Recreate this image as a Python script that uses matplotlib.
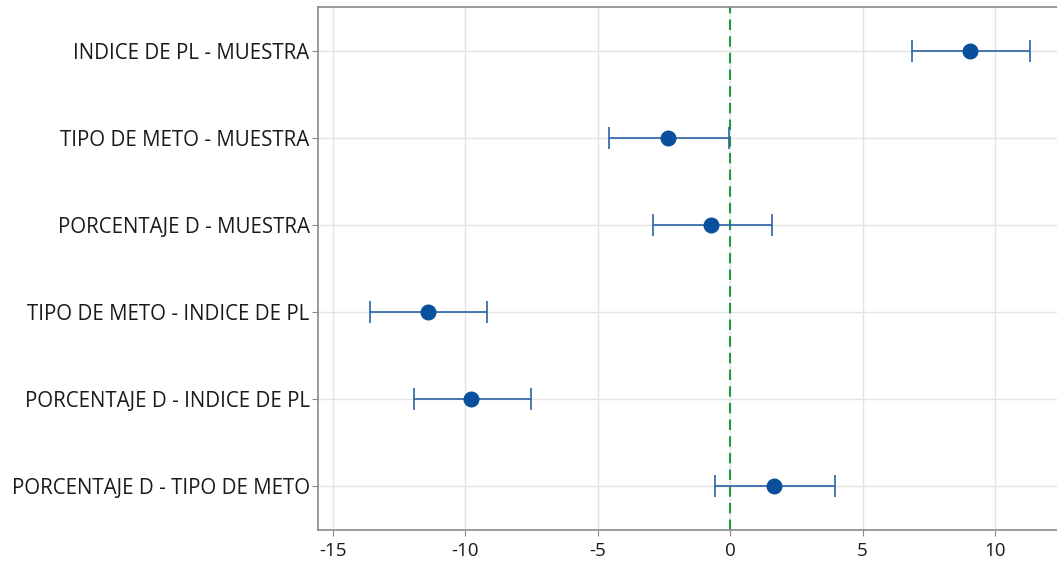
import matplotlib
matplotlib.use("Agg")
import matplotlib.pyplot as plt

labels = ["INDICE DE PL - MUESTRA", "TIPO DE METO - MUESTRA", "PORCENTAJE D - MUESTRA",
          "TIPO DE METO - INDICE DE PL", "PORCENTAJE D - INDICE DE PL", "PORCENTAJE D - TIPO DE METO"]
centers = [9.06, -2.35, -0.70, -11.41, -9.76, 1.65]
lowers = [6.88, -4.57, -2.91, -13.58, -11.92, -0.55]
uppers = [11.33, -0.04, 1.58, -9.17, -7.51, 3.96]
xticks = [-15, -10, -5, 0, 5, 10]

plt.rcParams['font.family'] = ['Open Sans', 'DejaVu Sans']

fig = plt.figure(figsize=(10.57, 5.68), dpi=100)
ax = fig.add_axes([318/1057, 1-530/568, 1-318/1057, (530-7)/568])

n = len(labels)
ys = [n - i for i in range(n)]
xerr = [[c - l for c, l in zip(centers, lowers)], [u - c for c, u in zip(centers, uppers)]]
ax.errorbar(centers, ys, xerr=xerr, fmt='o', color='#0a4f9c', ecolor='#2a62a3',
            elinewidth=1.2, capsize=8, capthick=1.2, markersize=10.5, zorder=3)
ax.axvline(0, color='#1f9a3c', linestyle=(0, (5, 3)), linewidth=1.5, zorder=2)

ax.set_xlim(-15.55, 12.34)
ax.set_ylim(0.5, 6.5)
ax.set_xticks(xticks)
ax.set_xticklabels([str(t) for t in xticks])
ax.set_yticks(ys)
ax.set_yticklabels(labels)
ax.grid(True, color='#e3e3e3', linewidth=1.0, zorder=0)
ax.set_axisbelow(True)
for s in ['left', 'bottom', 'top']:
    ax.spines[s].set_color('#8a8a8a')
    ax.spines[s].set_linewidth(1.2)
ax.spines['right'].set_visible(False)
ax.tick_params(axis='both', colors='#8a8a8a', labelcolor='#1a1a1a', length=4)
ax.tick_params(axis='y', pad=2, labelsize=14.8)
ax.tick_params(axis='x', pad=5, labelsize=13.5)

fig.savefig('out.png', dpi=100)
